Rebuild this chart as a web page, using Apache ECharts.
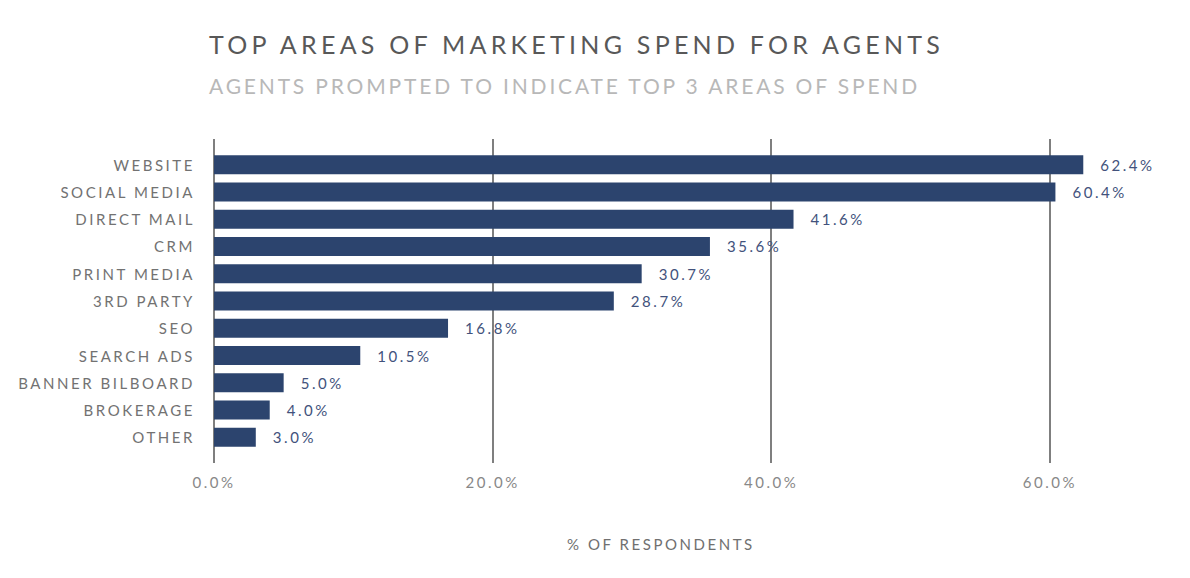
<!DOCTYPE html>
<html>
<head>
<meta charset="utf-8">
<script src="https://cdn.jsdelivr.net/npm/echarts@6/dist/echarts.min.js"></script>
<style>
  html, body { margin: 0; padding: 0; background: #fff; }
  #main { width: 1190px; height: 578px; }
  #main text { letter-spacing: 0.17em; }
  #main text[style*="21px"] { letter-spacing: 0.135em; }
</style>
</head>
<body>
<div id="main"></div>
<script>
const categories = ['WEBSITE', 'SOCIAL MEDIA', 'DIRECT MAIL', 'CRM', 'PRINT MEDIA', '3RD PARTY', 'SEO', 'SEARCH ADS', 'BANNER BILBOARD', 'BROKERAGE', 'OTHER'];
const values = [62.4, 60.4, 41.6, 35.6, 30.7, 28.7, 16.8, 10.5, 5.0, 4.0, 3.0];
const titleText = 'TOP AREAS OF MARKETING SPEND FOR AGENTS';
const subtitleText = 'AGENTS PROMPTED TO INDICATE TOP 3 AREAS OF SPEND';
const axisNameText = '% OF RESPONDENTS';

const FONT = 'Lato';
const chart = echarts.init(document.getElementById('main'), null, { renderer: 'svg' });
const xFmt = v => (v % 20 === 0 ? v.toFixed(1) + '%' : '');

chart.setOption({
  backgroundColor: '#ffffff',
  animation: false,
  title: [
    { text: titleText, left: 209, top: 31, padding: 0,
      textStyle: { fontFamily: FONT, fontSize: 25, fontWeight: 'normal', color: '#585858' } },
    { text: subtitleText, left: 209, top: 75, padding: 0,
      textStyle: { fontFamily: FONT, fontSize: 21, fontWeight: 'normal', color: '#b8b8b8' } },
    { text: axisNameText, left: 567, top: 536, padding: 0,
      textStyle: { fontFamily: FONT, fontSize: 15, fontWeight: 'normal', color: '#707070' } }
  ],
  grid: [
    { left: 214, right: 70.5, top: 151, bottom: 127 },
    { left: 214, right: 70.5, top: 139, bottom: 115 }
  ],
  xAxis: [
    { type: 'value', gridIndex: 0, min: 0, max: 65, interval: 20,
      axisLine: { show: false }, axisTick: { show: false },
      axisLabel: { show: false }, splitLine: { show: false } },
    { type: 'value', gridIndex: 1, min: 0, max: 65, interval: 20,
      axisLine: { show: false }, axisTick: { show: false },
      axisLabel: { formatter: xFmt, color: '#888888', fontFamily: FONT, fontSize: 15, margin: 11 },
      splitLine: { show: true, showMinLine: true, showMaxLine: false,
        lineStyle: { color: '#555555', width: 1.5 } } }
  ],
  yAxis: [
    { type: 'category', gridIndex: 0, data: categories, inverse: true,
      axisLine: { show: false }, axisTick: { show: false },
      axisLabel: { color: '#727272', fontFamily: FONT, fontSize: 15, margin: 19 } },
    { type: 'category', gridIndex: 1, data: categories, inverse: true, show: false }
  ],
  series: [
    { type: 'bar', xAxisIndex: 0, yAxisIndex: 0, data: values, barWidth: 19,
      itemStyle: { color: '#2c446e' },
      label: { show: true, position: 'right', distance: 17,
        formatter: p => p.value.toFixed(1) + '%',
        color: '#42527c', fontFamily: FONT, fontSize: 15 } }
  ]
});
</script>
</body>
</html>
